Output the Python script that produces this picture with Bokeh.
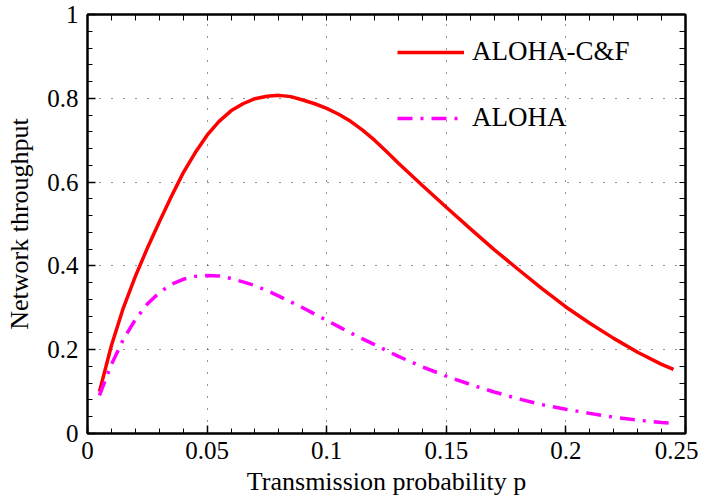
from bokeh.plotting import figure
from bokeh.models import Range1d, LinearAxis, FixedTicker, Legend, LegendItem
from bokeh.embed import file_html
from bokeh.resources import INLINE

# transmission probability
p_vals = [0.005, 0.01, 0.015, 0.02, 0.025, 0.03, 0.035, 0.04, 0.045, 0.05,
          0.055, 0.06, 0.065, 0.07, 0.075, 0.08, 0.085, 0.09, 0.095, 0.10,
          0.105, 0.11, 0.115, 0.12, 0.125, 0.13, 0.14, 0.15, 0.16, 0.17,
          0.18, 0.19, 0.20, 0.21, 0.22, 0.23, 0.24, 0.245]

aloha_cf = [0.100, 0.210, 0.300, 0.375, 0.442, 0.505, 0.565, 0.622, 0.670, 0.712,
            0.745, 0.770, 0.787, 0.799, 0.805, 0.807, 0.804, 0.796, 0.787, 0.776,
            0.762, 0.745, 0.724, 0.700, 0.673, 0.645, 0.592, 0.540, 0.489, 0.439,
            0.392, 0.346, 0.302, 0.263, 0.227, 0.194, 0.165, 0.153]

aloha = [0.091, 0.165, 0.225, 0.272, 0.309, 0.336, 0.356, 0.368, 0.375, 0.377,
         0.376, 0.370, 0.362, 0.353, 0.341, 0.328, 0.314, 0.300, 0.285, 0.270,
         0.255, 0.240, 0.226, 0.212, 0.198, 0.184, 0.159, 0.137, 0.117, 0.099,
         0.083, 0.069, 0.058, 0.048, 0.039, 0.032, 0.026, 0.024]

x_ticks = [0, 0.05, 0.1, 0.15, 0.2, 0.25]
x_tick_labels = ["0", "0.05", "0.1", "0.15", "0.2", "0.25"]
y_ticks = [0, 0.2, 0.4, 0.6, 0.8, 1.0]
y_tick_labels = ["0", "0.2", "0.4", "0.6", "0.8", "1"]

FONT = "Liberation Serif"

p = figure(width=698, height=503, x_range=Range1d(0, 0.25), y_range=Range1d(0, 1),
           output_backend="svg", toolbar_location=None,
           min_border_left=87, min_border_right=13, min_border_top=14, min_border_bottom=70)

p.outline_line_color = "black"
p.outline_line_width = 2
p.background_fill_color = "white"

x_minor = [round(i * 0.01, 4) for i in range(26)]
y_minor = [round(i * 0.04, 4) for i in range(26)]

def style_axis(ax):
    ax.major_tick_in = 8
    ax.major_tick_out = 0
    ax.minor_tick_in = 5
    ax.minor_tick_out = 0
    ax.axis_line_width = 2
    ax.axis_line_color = "black"
    ax.major_tick_line_color = "black"
    ax.minor_tick_line_color = "black"
    ax.major_tick_line_width = 1.5
    ax.minor_tick_line_width = 1

xa = p.xaxis[0]
style_axis(xa)
xa.ticker = FixedTicker(ticks=x_ticks, minor_ticks=x_minor)
xa.major_label_overrides = {t: l for t, l in zip(x_ticks, x_tick_labels)}
xa.major_label_text_font = FONT
xa.major_label_text_font_size = "25px"
xa.major_label_text_color = "black"
xa.major_label_standoff = 8
xa.axis_label = "Transmission probability p"
xa.axis_label_text_font = FONT
xa.axis_label_text_font_size = "26px"
xa.axis_label_text_font_style = "normal"
xa.axis_label_text_color = "black"
xa.axis_label_standoff = 5

ya = p.yaxis[0]
style_axis(ya)
ya.ticker = FixedTicker(ticks=y_ticks, minor_ticks=y_minor)
ya.major_label_overrides = {t: l for t, l in zip(y_ticks, y_tick_labels)}
ya.major_label_text_font = FONT
ya.major_label_text_font_size = "25px"
ya.major_label_text_color = "black"
ya.major_label_standoff = 9
ya.axis_label = "Network throughput"
ya.axis_label_text_font = FONT
ya.axis_label_text_font_size = "26px"
ya.axis_label_text_font_style = "normal"
ya.axis_label_text_color = "black"
ya.axis_label_standoff = 10

# mirrored tick marks on top and right (no labels)
top_ax = LinearAxis()
style_axis(top_ax)
top_ax.ticker = FixedTicker(ticks=[], minor_ticks=x_minor)
top_ax.minor_tick_in = 6
p.add_layout(top_ax, "above")
right_ax = LinearAxis()
style_axis(right_ax)
right_ax.ticker = FixedTicker(ticks=[], minor_ticks=y_minor)
right_ax.minor_tick_in = 6
p.add_layout(right_ax, "right")

p.xgrid.ticker = FixedTicker(ticks=x_ticks[1:-1])
p.ygrid.ticker = FixedTicker(ticks=y_ticks[1:-1])
for g in (p.xgrid[0], p.ygrid[0]):
    g.grid_line_color = "#222222"
    g.grid_line_dash = "1 11"
    g.grid_line_width = 1

r1 = p.line(p_vals, aloha_cf, line_color="#ff0000", line_width=3.5)
r2 = p.line(p_vals, aloha, line_color="#ff00ff", line_width=3.5, line_dash="15 8 3 8")

legend = Legend(items=[LegendItem(label="ALOHA-C&F", renderers=[r1]),
                       LegendItem(label="ALOHA", renderers=[r2])],
                location=(310, 300))
legend.border_line_alpha = 0
legend.background_fill_alpha = 0
legend.glyph_width = 67
legend.glyph_height = 30
legend.label_height = 30
legend.label_standoff = 8
legend.spacing = 35
legend.padding = 0
legend.margin = 0
legend.label_text_font = FONT
legend.label_text_font_size = "27px"
legend.label_text_color = "black"
p.add_layout(legend)

open("out.html", "w").write(file_html(p, INLINE))
